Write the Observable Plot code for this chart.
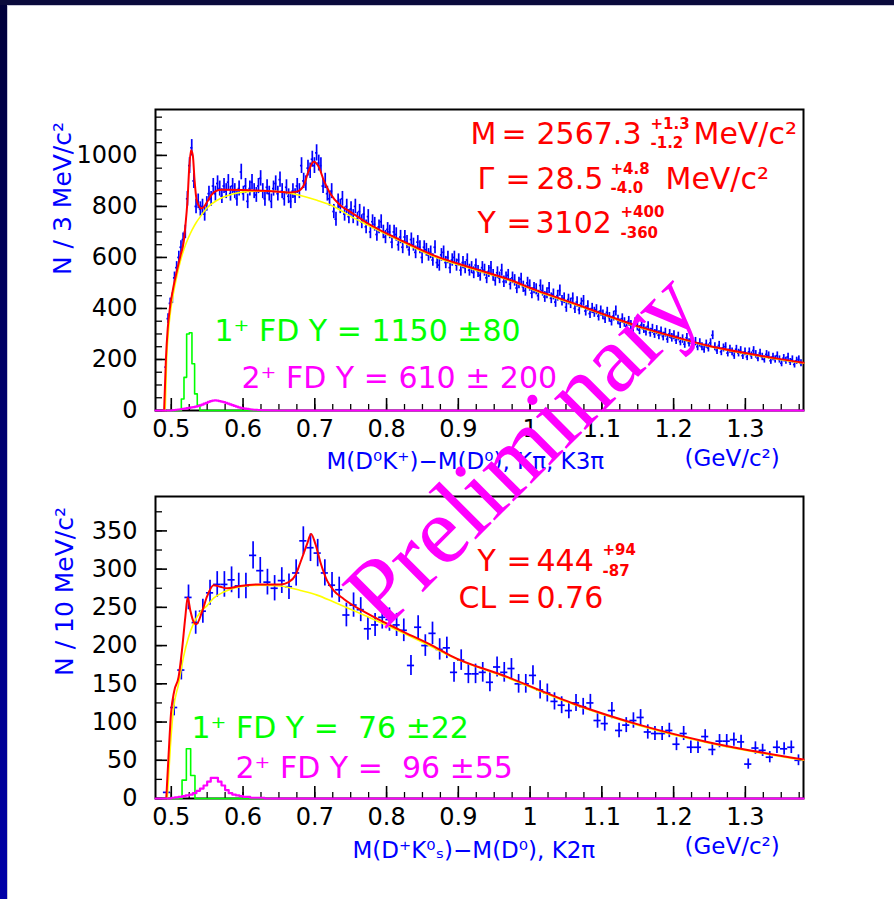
<!DOCTYPE html>
<html><head><meta charset="utf-8">
<script src="https://cdn.jsdelivr.net/npm/d3@7"></script>
<script src="https://cdn.jsdelivr.net/npm/@observablehq/plot@0.6"></script>
<style>
html,body{margin:0;padding:0;background:#fff;}
#page{position:relative;width:894px;height:899px;overflow:hidden;background:#fff;}
#page svg{display:block;}
#page svg text{white-space:pre;}
.band-left{position:absolute;left:0;top:0;width:7px;height:899px;background:linear-gradient(#00003a,#0000a8);}
.band-top{position:absolute;left:0;top:0;width:894px;height:5px;background:#0a0a3c;}
.line-top{position:absolute;left:7px;top:5px;width:887px;height:1px;background:#c8c8d8;}
.line-left{position:absolute;left:7px;top:5px;width:1px;height:894px;background:#c8c8d8;}
#wm{position:absolute;left:0;top:0;pointer-events:none;}
</style></head>
<body>
<div id="page">
<div id="top"></div>
<div id="bottom"></div>
<div class="band-left"></div><div class="band-top"></div><div class="line-top"></div><div class="line-left"></div>
<svg id="wm" width="894" height="899"><text x="544" y="471" transform="rotate(-45 544 471)" font-family="Liberation Serif, Times New Roman, serif" font-size="96" fill="#ff00ff" text-anchor="middle">Preliminary</text></svg>
</div>
<script>
// ---------- shared axis definitions ----------
const xDomain = [0.478, 1.381];
const xMajorTicks = [0.5, 0.6, 0.7, 0.8, 0.9, 1.0, 1.1, 1.2, 1.3];
const xTickLabels = ["0.5", "0.6", "0.7", "0.8", "0.9", "1", "1.1", "1.2", "1.3"];
const xMinorTicks = d3.range(0.5, 1.3801, 0.025);

// ---------- top panel: M(D0K+)-M(D0), 3 MeV bins ----------
const topYDomain = [0, 1180];
const topYMajor = [0, 200, 400, 600, 800, 1000];
const topYLabels = ["0", "200", "400", "600", "800", "1000"];
const topYMinor = d3.range(0, 1151, 50);
const topBinStart = 0.4925;
const topBinWidth = 0.003;
const topCounts = [
170,360,420,440,520,560,600,640,670,700,
830,960,1030,900,800,820,790,800,770,810,
850,830,880,850,890,870,840,880,860,895,
850,880,860,830,870,935,850,880,820,870,
895,860,845,880,910,860,830,875,850,820,
870,890,850,905,860,830,875,840,820,860,
840,880,860,960,900,890,950,940,985,960,
1010,970,960,880,900,850,830,860,780,750,
820,800,830,770,800,760,790,760,800,750,
780,740,770,720,760,700,740,730,690,720,
740,700,680,710,700,660,700,690,650,680,
640,680,660,630,670,650,620,660,640,600,
640,630,610,620,590,640,580,570,610,620,
580,600,560,590,600,570,590,550,580,560,
590,550,560,540,570,545,530,560,550,520,
545,560,530,510,540,520,550,505,520,530,
495,520,510,480,500,515,485,470,500,490,
460,480,475,450,490,470,445,460,480,440,
455,425,450,470,430,440,405,435,420,440,
400,425,395,420,430,390,410,380,400,385,
395,370,390,375,360,385,365,350,370,390,
355,340,360,345,330,350,335,320,345,330,
315,335,320,310,330,305,320,300,315,295,
310,290,305,280,300,285,295,275,290,270,
280,260,285,265,275,255,270,250,265,250,
240,260,245,265,295,250,235,255,230,245,
250,225,240,230,215,240,225,235,215,230,
210,230,215,235,220,205,225,210,200,220,
215,195,210,200,215,200,185,205,195,210,
190,200,180,195,200,185];
const topFitX = [0.4900,0.4925,0.4950,0.4980,0.5020,0.5080,0.5130,0.5172,0.5195,0.5225,0.5250,0.5275,0.5300,0.5325,0.5350,0.5380,0.5420,0.5460,0.5500,0.5560,0.5620,0.5700,0.6000,0.6400,0.6650,0.6750,0.6845,0.6915,0.6985,0.7055,0.7125,0.7217,0.7357,0.7500,0.7730,0.8194,0.8658,0.9200,0.9680,1.0100,1.0610,1.1000,1.1540,1.2000,1.2470,1.3000,1.3810];
const topFitY = [0,200,320,400,470,550,610,660,720,820,950,1020,1000,900,830,805,792,800,818,845,860,865,864,860,855,858,882,940,975,955,902,850,804,778,735,668,608,558,516,470,420,380,327,290,255,225,187];
const topBkgX = [0.4915,0.4935,0.4960,0.4990,0.5030,0.5080,0.5126,0.5180,0.5240,0.5290,0.5350,0.5405,0.5500,0.5637,0.5870,0.6100,0.6335,0.6566,0.6800,0.7030,0.7264,0.7497,0.7730,0.8194,0.8658,0.9200,0.9680,1.0100,1.0610,1.1000,1.1540,1.2000,1.2470,1.3000,1.3810];
const topBkgY = [0,200,310,390,460,530,585,635,678,708,738,760,795,824,850,859,860,856,843,824,800,762,728,664,604,554,513,467,417,377,324,288,253,223,185];
const topFD1Lo = 0.5140, topFD1Bin = 0.0037;
const topFD1Vals = [45,130,300,305,183,65,20];
const topFD2Lo = 0.500, topFD2Bin = 0.003;
const topFD2Vals = [1,2,3,4,5,6,7,9,10,12,13,15,17,20,23,27,30,34,37,39,40,39,37,35,33,30,27,24,21,18,15,12,10,8,7,6,5,4,3,3,2,2,1,1,1,1];

// ---------- bottom panel: M(D+Ks)-M(D0), 10 MeV bins ----------
const botYDomain = [0, 395];
const botYMajor = [0, 50, 100, 150, 200, 250, 300, 350];
const botYLabels = ["0", "50", "100", "150", "200", "250", "300", "350"];
const botYMinor = d3.range(0, 376, 25);
const botBinStart = 0.494;
const botBinWidth = 0.010;
const botCounts = [
8,119,168,263,230,245,269,280,280,286,
278,278,318,298,283,275,285,277,295,337,
328,321,295,279,273,240,253,247,222,227,
237,234,227,220,174,224,200,216,195,197,
165,181,163,163,165,152,172,165,170,150,
150,161,142,138,127,122,115,125,120,125,
102,98,115,89,96,102,106,87,85,85,
89,71,85,67,67,81,64,75,75,77,
74,45,66,63,54,67,65,67,50];
const botFitX = [0.493,0.4963,0.4996,0.5042,0.5102,0.5149,0.5195,0.5228,0.5265,0.5311,0.5350,0.5428,0.5497,0.5590,0.5683,0.5777,0.5960,0.6240,0.6520,0.6636,0.6730,0.6800,0.6893,0.6948,0.7008,0.7078,0.7171,0.7264,0.7403,0.7730,0.8194,0.8658,0.8890,0.9680,1.0610,1.1540,1.2470,1.3810];
const botFitY = [0,58,111,141,159,194,237,263,246,231,228,244,264,279,277,275,278,280,280,283,292,309,333,346,333,309,285,272,261,242,220,199,187,159,124,96,74,51];
const botBkgX = [0.4944,0.4990,0.5028,0.5102,0.5170,0.5240,0.5311,0.5405,0.5497,0.5590,0.5730,0.5960,0.6240,0.6520,0.6800,0.7032,0.7264,0.7490,0.7730,0.8194,0.8658,0.8890,0.9680,1.0610,1.1540,1.2470,1.3810];
const botBkgY = [0,72,115,150,185,211,229,244,252,262,270,277,279,278,272,266,257,248,238,218,197,186,158,123,95,73,50];
const botFD1Lo = 0.515, botFD1Bin = 0.006;
const botFD1Vals = [24,65,30];
const botFD2Lo = 0.500, botFD2Bin = 0.005;
const botFD2Vals = [1,1.5,2,3,4,5,7,10,13,17,22,27,27,22,17,11,7,5,4,3,2,2,1,1,1,1];

// ---------- text ----------
const topYTitle = "N / 3 MeV/c²";
const botYTitle = "N / 10 MeV/c²";
const topXTitle = "M(D⁰K⁺)−M(D⁰), Kπ, K3π";
const botXTitle = "M(D⁺K⁰ₛ)−M(D⁰), K2π";
const unitLabel = "(GeV/c²)";

// ---------- helpers ----------
const BLUE = "#0000ff", RED = "#ff0000", YEL = "#ffff00", GRN = "#00ff00", MAG = "#ff00ff";
const pts = (xs, ys) => xs.map((x, i) => ({x, y: ys[i]}));
function stepPts(lo, w, vals, from, to) {
  const p = [{x: from, y: 0}];
  vals.forEach((v, i) => p.push({x: lo + i * w, y: v}));
  p.push({x: lo + vals.length * w, y: 0});
  p.push({x: to, y: 0});
  return p;
}
function note(frame, str, px, py, o = {}) {
  return Plot.text([str], {text: d => d, frameAnchor: "top-left", dx: px - frame.left, dy: py - frame.top,
    textAnchor: "start", lineAnchor: "bottom", fontSize: 30, ...o});
}
const SUP = {fill: "#ff0000", fontSize: 15, fontWeight: "bold", lineHeight: 1.25};
function tickMarks(frame, yMajor, yMinor) {
  return [
    Plot.tickX(xMinorTicks, {x: d => d, insetTop: frame.height - 6, stroke: "black", strokeWidth: 1.3}),
    Plot.tickX(xMajorTicks, {x: d => d, insetTop: frame.height - 12, stroke: "black", strokeWidth: 1.6}),
    Plot.tickY(yMinor, {y: d => d, insetRight: frame.width - 7, stroke: "black", strokeWidth: 1.3}),
    Plot.tickY(yMajor, {y: d => d, insetRight: frame.width - 12, stroke: "black", strokeWidth: 1.6})
  ];
}
function axes(yMajor, yLabels, pad) {
  return [
    Plot.axisX(xMajorTicks, {anchor: "bottom", tickSize: 0, tickPadding: pad, fontSize: 24,
      tickFormat: d => xTickLabels[xMajorTicks.indexOf(d)]}),
    Plot.axisY(yMajor, {anchor: "left", tickSize: 0, tickPadding: 18, fontSize: 24,
      tickFormat: d => yLabels[yMajor.indexOf(d)]})
  ];
}
function dataMarks(counts, start, w) {
  const data = counts.map((v, i) => ({x: start + i * w, v}));
  return [
    Plot.ruleX(data, {x: "x", y1: d => d.v - Math.sqrt(d.v), y2: d => d.v + Math.sqrt(d.v), stroke: BLUE, strokeWidth: 1.7}),
    Plot.ruleY(data, {y: "v", x1: d => d.x - w / 2, x2: d => d.x + w / 2, stroke: BLUE, strokeWidth: 1.7})
  ];
}

// ---------- top plot ----------
const tf = {left: 155, top: 109, width: 648, height: 301};
const topPlot = Plot.plot({
  width: 894, height: 480,
  marginLeft: 155, marginRight: 91, marginTop: 109, marginBottom: 70,
  x: {domain: xDomain, label: null},
  y: {domain: topYDomain, label: null},
  style: {fontFamily: "DejaVu Sans", background: "white", overflow: "visible"},
  marks: [
    Plot.frame({stroke: "black", strokeWidth: 2}),
    ...tickMarks(tf, topYMajor, topYMinor),
    ...axes(topYMajor, topYLabels, 9),
    ...dataMarks(topCounts, topBinStart, topBinWidth),
    Plot.line(pts(topBkgX, topBkgY), {x: "x", y: "y", curve: "monotone-x", stroke: YEL, strokeWidth: 1.6}),
    Plot.line(pts(topFitX, topFitY), {x: "x", y: "y", curve: "monotone-x", stroke: RED, strokeWidth: 2}),
    Plot.line(stepPts(topFD1Lo, topFD1Bin, topFD1Vals, 0.490, 0.66), {x: "x", y: "y", curve: "step-after", stroke: GRN, strokeWidth: 1.6}),
    Plot.line(stepPts(topFD2Lo, topFD2Bin, topFD2Vals, xDomain[0], xDomain[1]), {x: "x", y: "y", curve: "step-after", stroke: MAG, strokeWidth: 2.2}),
    note(tf, "M", 470, 143, {fill: RED}),
    note(tf, "=", 501, 143, {fill: RED}),
    note(tf, "2567.3", 536, 143, {fill: RED}),
    note(tf, "+1.3\n-1.2", 650, 147, SUP),
    note(tf, "MeV/c²", 693, 143, {fill: RED}),
    note(tf, "Γ", 477, 188, {fill: RED}),
    note(tf, "=", 505, 188, {fill: RED}),
    note(tf, "28.5", 536, 188, {fill: RED}),
    note(tf, "+4.8\n-4.0", 610, 192, SUP),
    note(tf, "MeV/c²", 665, 188, {fill: RED}),
    note(tf, "Y", 477, 232, {fill: RED}),
    note(tf, "=", 506, 232, {fill: RED}),
    note(tf, "3102", 535, 232, {fill: RED}),
    note(tf, "+400\n-360", 620, 237, {...SUP, lineHeight: 1.35}),
    note(tf, "1⁺ FD Y = 1150 ±80", 214, 340, {fill: GRN}),
    note(tf, "2⁺ FD Y = 610 ± 200", 241, 387, {fill: MAG}),
    note(tf, topXTitle, 326, 468, {fill: BLUE, fontSize: 23}),
    note(tf, unitLabel, 684, 465, {fill: BLUE, fontSize: 23}),
    note(tf, topYTitle, 62, 198, {fill: BLUE, fontSize: 25, rotate: -90, textAnchor: "middle", lineAnchor: "middle"})
  ]
});
document.getElementById("top").appendChild(topPlot);

// ---------- bottom plot ----------
const bf = {left: 155, top: 496, width: 648, height: 302};
const botPlot = Plot.plot({
  width: 894, height: 419,
  marginLeft: 155, marginRight: 91, marginTop: 16, marginBottom: 101,
  x: {domain: xDomain, label: null},
  y: {domain: botYDomain, label: null},
  style: {fontFamily: "DejaVu Sans", background: "white", overflow: "visible"},
  marks: [
    Plot.frame({stroke: "black", strokeWidth: 2}),
    ...tickMarks(bf, botYMajor, botYMinor),
    ...axes(botYMajor, botYLabels, 9),
    ...dataMarks(botCounts, botBinStart, botBinWidth),
    Plot.line(pts(botBkgX, botBkgY), {x: "x", y: "y", curve: "monotone-x", stroke: YEL, strokeWidth: 1.6}),
    Plot.line(pts(botFitX, botFitY), {x: "x", y: "y", curve: "monotone-x", stroke: RED, strokeWidth: 2}),
    Plot.line(stepPts(botFD1Lo, botFD1Bin, botFD1Vals, 0.490, 0.64), {x: "x", y: "y", curve: "step-after", stroke: GRN, strokeWidth: 1.6}),
    Plot.line(stepPts(botFD2Lo, botFD2Bin, botFD2Vals, xDomain[0], xDomain[1]), {x: "x", y: "y", curve: "step-after", stroke: MAG, strokeWidth: 2.2}),
    note(bf, "Y", 477, 570, {fill: RED}),
    note(bf, "=", 506, 570, {fill: RED}),
    note(bf, "444", 536, 570, {fill: RED}),
    note(bf, "+94\n-87", 602, 575, {...SUP, lineHeight: 1.35}),
    note(bf, "CL", 458, 607, {fill: RED}),
    note(bf, "=", 506, 607, {fill: RED}),
    note(bf, "0.76", 536, 607, {fill: RED}),
    note(bf, "1⁺ FD Y =  76 ±22", 191, 737, {fill: GRN}),
    note(bf, "2⁺ FD Y =  96 ±55", 235, 777, {fill: MAG}),
    note(bf, botXTitle, 352, 857, {fill: BLUE, fontSize: 23}),
    note(bf, unitLabel, 684, 853, {fill: BLUE, fontSize: 23}),
    note(bf, botYTitle, 64, 591, {fill: BLUE, fontSize: 25, rotate: -90, textAnchor: "middle", lineAnchor: "middle"})
  ]
});
document.getElementById("bottom").appendChild(botPlot);
</script>
</body></html>
